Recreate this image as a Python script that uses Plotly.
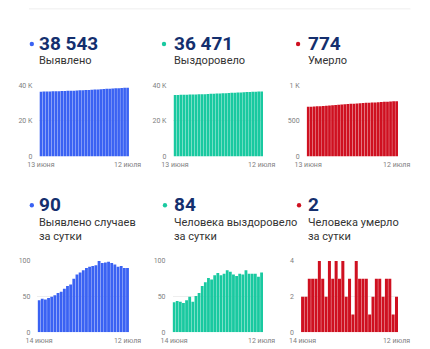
import plotly.graph_objects as go

W, H = 430, 349

# ---- categories ----
days_top = ["13.06", "14.06", "15.06", "16.06", "17.06", "18.06", "19.06", "20.06", "21.06",
            "22.06", "23.06", "24.06", "25.06", "26.06", "27.06", "28.06", "29.06", "30.06",
            "01.07", "02.07", "03.07", "04.07", "05.07", "06.07", "07.07", "08.07", "09.07",
            "10.07", "11.07", "12.07"]
days_bot = days_top[1:]

tick_top = ["13 июня", "12 июля"]
tick_bot = ["14 июня", "12 июля"]

# ---- series values ----
cases_total = [36303, 36348, 36395, 36441, 36489, 36539, 36591, 36646, 36703, 36764,
               36829, 36896, 36971, 37052, 37136, 37223, 37313, 37405, 37498, 37592,
               37692, 37789, 37887, 37986, 38083, 38178, 38270, 38363, 38453, 38543]
recovered_total = [34457, 34499, 34543, 34586, 34627, 34672, 34722, 34765, 34816, 34871,
                   34936, 35006, 35082, 35156, 35236, 35319, 35399, 35481, 35568, 35653,
                   35734, 35813, 35895, 35976, 36063, 36145, 36227, 36309, 36387, 36471]
deaths_total = [695, 697, 699, 702, 705, 708, 712, 715, 717, 721, 724, 728, 731, 735, 737,
                740, 741, 745, 748, 751, 754, 755, 757, 760, 763, 765, 768, 771, 772, 774]

cases_daily = [45, 47, 46, 48, 50, 52, 55, 57, 61, 65, 67, 75, 81, 84, 87, 90, 92, 93, 94,
               100, 97, 98, 99, 97, 95, 92, 93, 90, 90]
recovered_daily = [42, 44, 43, 41, 45, 50, 43, 51, 55, 65, 70, 76, 74, 80, 83, 80, 82, 87,
                   85, 81, 79, 82, 81, 87, 82, 82, 82, 78, 84]
deaths_daily = [2, 2, 3, 3, 3, 4, 3, 2, 4, 3, 4, 3, 4, 2, 3, 1, 4, 3, 3, 3, 1, 2, 3, 3, 2, 3,
                3, 1, 2]

headline = ["38 543", "36 471", "774", "90", "84", "2"]
captions = [["Выявлено"], ["Выздоровело"], ["Умерло"],
            ["Выявлено случаев", "за сутки"], ["Человека выздоровело", "за сутки"],
            ["Человека умерло", "за сутки"]]
y_ticks_vals = [[0, 20000, 40000], [0, 20000, 40000], [0, 500, 1000],
                [0, 50, 100], [0, 50, 100], [0, 2, 4]]
y_ticks_text = [["0", "20 K", "40 K"], ["0", "20 K", "40 K"], ["0", "500", "1 K"],
                ["0", "50", "100"], ["0", "50", "100"], ["0", "2", "4"]]

BLUE, GREEN, RED = "#3a62f3", "#19c9a0", "#cf1020"
NAVY = "#142f6e"

panels = [
    dict(cats=days_top, vals=cases_total, color=BLUE, px=(29, 124), py=(83, 156), ticks=tick_top,
         num=(21, 27, 40), cap=(27, [58])),
    dict(cats=days_top, vals=recovered_total, color=GREEN, px=(171, 266), py=(83, 156), ticks=tick_top,
         num=(161, 169, 40), cap=(169, [58])),
    dict(cats=days_top, vals=deaths_total, color=RED, px=(312, 409), py=(83, 156), ticks=tick_top,
         num=(303, 311, 40), cap=(311, [58])),
    dict(cats=days_bot, vals=cases_daily, color=BLUE, px=(27, 124), py=(263, 336), ticks=tick_bot,
         num=(21, 27, 205), cap=(27, [224, 238])),
    dict(cats=days_bot, vals=recovered_daily, color=GREEN, px=(170, 266), py=(263, 336), ticks=tick_bot,
         num=(162, 169, 205), cap=(169, [224, 238])),
    dict(cats=days_bot, vals=deaths_daily, color=RED, px=(306, 409), py=(263, 336), ticks=tick_bot,
         num=(304, 311, 205), cap=(311, [224, 238])),
]

fig = go.Figure()
tickfont = dict(family="Roboto", size=7, color="#808080")
annotations = []
shapes = [dict(type="line", xref="paper", yref="paper", x0=18 / W, x1=422 / W,
               y0=1 - 5 / H, y1=1 - 5 / H, line=dict(color="#eeeeee", width=1))]

for i, p in enumerate(panels):
    ax = "" if i == 0 else str(i + 1)
    cats = p["cats"]
    fig.add_trace(go.Bar(x=cats, y=p["vals"], marker=dict(color=p["color"], line=dict(width=0)),
                         xaxis="x" + ax, yaxis="y" + ax, hoverinfo="skip", showlegend=False))
    fig.update_layout(**{
        "xaxis" + ax: dict(domain=[p["px"][0] / W, p["px"][1] / W], anchor="y" + ax,
                           type="category", tickmode="array", tickvals=[cats[0], cats[-1]],
                           ticktext=p["ticks"], showgrid=False, zeroline=False, showline=False,
                           ticks="", tickfont=tickfont, ticklabelstandoff=3,
                           range=[-0.5, len(cats) - 0.5], fixedrange=True),
        "yaxis" + ax: dict(domain=[1 - p["py"][1] / H, 1 - p["py"][0] / H], anchor="x" + ax,
                           range=[0, y_ticks_vals[i][-1]], tickmode="array",
                           tickvals=y_ticks_vals[i], ticktext=y_ticks_text[i],
                           showgrid=True, gridcolor="#eeeeee", gridwidth=1, zeroline=False,
                           showline=False, ticks="", tickfont=tickfont, ticklabelstandoff=6,
                           fixedrange=True),
    })
    dx, nx, ny = p["num"]
    r = 2.3
    shapes.append(dict(type="circle", xref="paper", yref="paper",
                       x0=(dx - r) / W, x1=(dx + r) / W, y0=1 - (ny + 1 + r) / H,
                       y1=1 - (ny + 1 - r) / H, fillcolor=p["color"], line=dict(width=0)))
    annotations.append(dict(text="<b>" + headline[i] + "</b>", xref="paper", yref="paper",
                            x=nx / W, y=1 - ny / H, xanchor="left", yanchor="middle",
                            showarrow=False,
                            font=dict(family="Roboto", size=19, color=NAVY)))
    cx, cys = p["cap"]
    for line_text, cy in zip(captions[i], cys):
        annotations.append(dict(text=line_text, xref="paper", yref="paper",
                                x=cx / W, y=1 - cy / H, xanchor="left", yanchor="middle",
                                align="left", showarrow=False,
                                font=dict(family="Roboto", size=11, color="#333333")))

fig.update_layout(width=W, height=H, margin=dict(l=0, r=0, t=0, b=0),
                  paper_bgcolor="white", plot_bgcolor="white", bargap=0.1,
                  annotations=annotations, shapes=shapes)

fig.write_html("out.html", config={"displayModeBar": False})
